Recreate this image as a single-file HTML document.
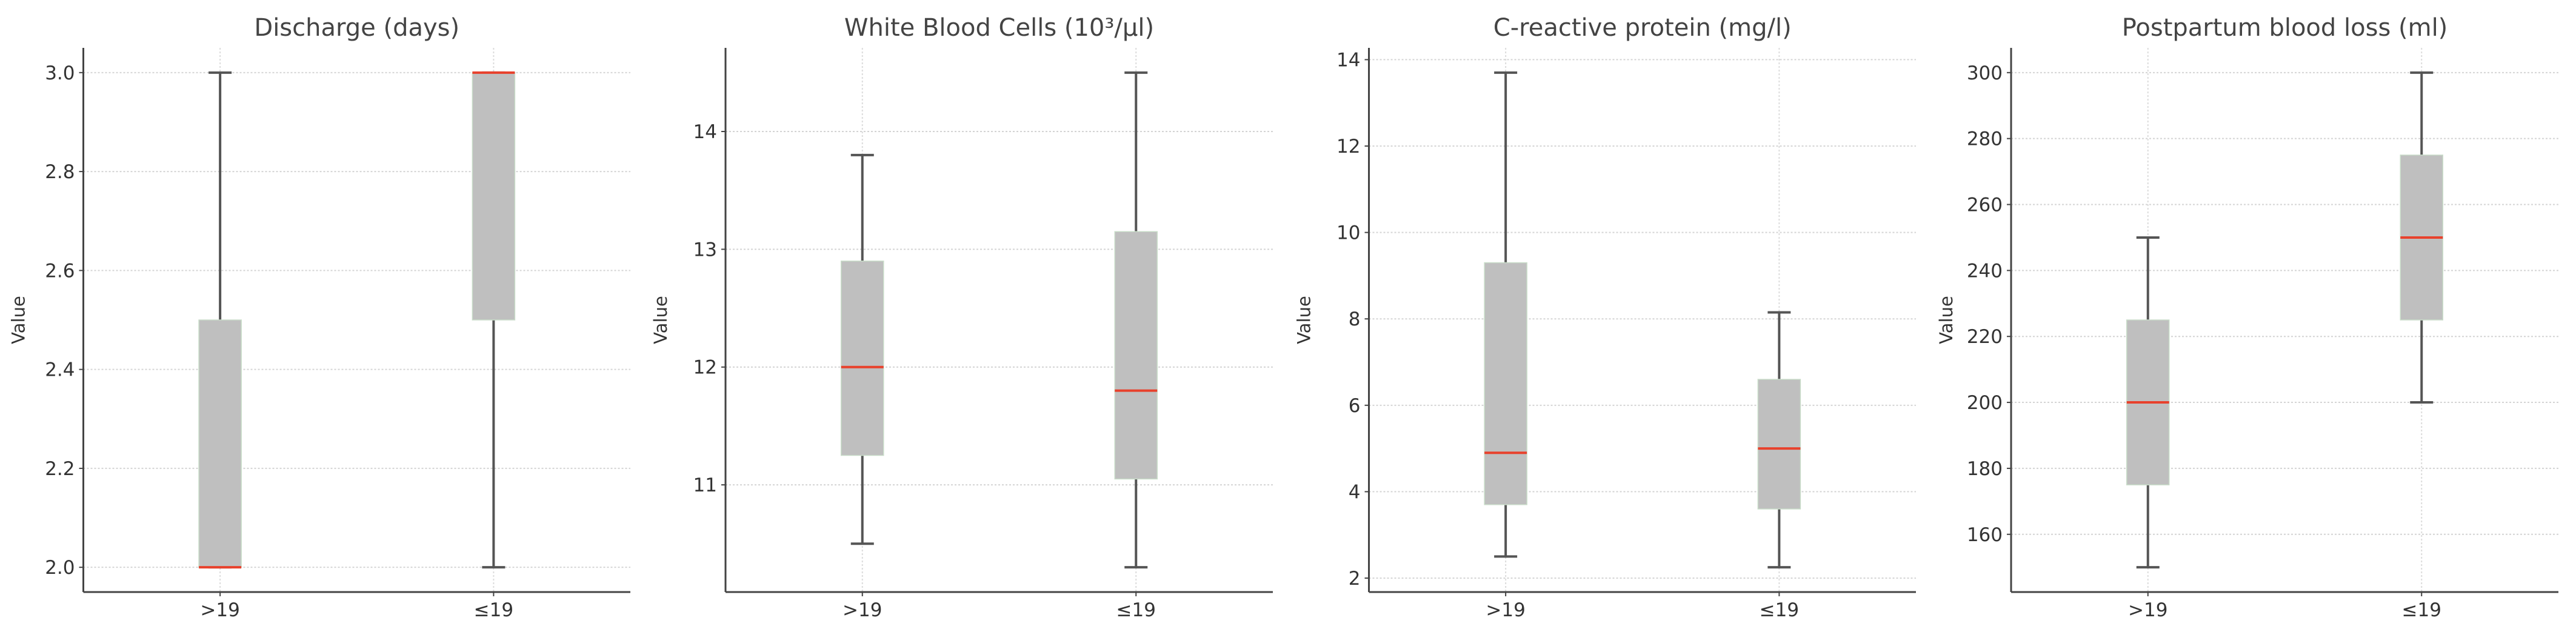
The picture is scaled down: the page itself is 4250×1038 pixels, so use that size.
<!DOCTYPE html>
<html><head><meta charset="utf-8"><style>
html,body{margin:0;padding:0;background:#fff;}
svg{display:block;font-family:"DejaVu Sans","Liberation Sans",sans-serif;}
</style></head><body>
<svg id="chart" width="4250" height="1038" viewBox="0 0 4250 1038"></svg>
<script>
const categories = [">19", "≤19"];
const titles = ["Discharge (days)", "White Blood Cells (10³/µl)", "C-reactive protein (mg/l)", "Postpartum blood loss (ml)"];
// per panel, per category: [whiskerLow, q1, median, q3, whiskerHigh]
const dischargeStats = [[2.0, 2.0, 2.0, 2.5, 3.0], [2.0, 2.5, 3.0, 3.0, 3.0]];
const wbcStats = [[10.5, 11.25, 12.0, 12.9, 13.8], [10.3, 11.05, 11.8, 13.15, 14.5]];
const crpStats = [[2.5, 3.7, 4.9, 9.3, 13.7], [2.25, 3.6, 5.0, 6.6, 8.15]];
const bloodLossStats = [[150, 175, 200, 225, 250], [200, 225, 250, 275, 300]];
const dischargeTicks = ["2.0", "2.2", "2.4", "2.6", "2.8", "3.0"];
const wbcTicks = ["11", "12", "13", "14"];
const crpTicks = ["2", "4", "6", "8", "10", "12", "14"];
const bloodLossTicks = ["160", "180", "200", "220", "240", "260", "280", "300"];

const NS = "http://www.w3.org/2000/svg";
const svg = document.getElementById("chart");
function mk(tag, attrs, parent) {
  const e = document.createElementNS(NS, tag);
  for (const k in attrs) e.setAttribute(k, attrs[k]);
  (parent || svg).appendChild(e);
  return e;
}
const panels = [
  {stats: dischargeStats, ticks: dischargeTicks, left: 137.5, right: 1040},
  {stats: wbcStats, ticks: wbcTicks, left: 1197, right: 2100},
  {stats: crpStats, ticks: crpTicks, left: 2258.5, right: 3161},
  {stats: bloodLossStats, ticks: bloodLossTicks, left: 3318, right: 4221}
];
const TOP = 79, BOTTOM = 977;
panels.forEach((p, pi) => {
  const g = mk("g", {});
  
  
  let mn = Infinity, mx = -Infinity;
  p.stats.forEach(s => s.forEach(v => { mn = Math.min(mn, v); mx = Math.max(mx, v); }));
  const m = (mx - mn) * 0.05;
  const y0 = mn - m, y1 = mx + m;
  const yS = v => BOTTOM - (v - y0) / (y1 - y0) * (BOTTOM - TOP);
  const xS = i => p.left + (i + 0.5) / 2 * (p.right - p.left);
  // grid
  p.ticks.forEach(t => {
    const y = yS(parseFloat(t));
    const gl = mk("line", {x1: p.left, x2: p.right, y1: y, y2: y, stroke: "#d4d4d4", "stroke-width": 2, "stroke-dasharray": "3,3"}, g);
    
    
    mk("line", {x1: p.left - 7, x2: p.left, y1: y, y2: y, stroke: "#444", "stroke-width": 2}, g);
    const tl = mk("text", {x: p.left - 14, y: y + 11, "text-anchor": "end", "font-size": 31, fill: "#333"}, g);
    tl.textContent = t;
    
    
  });
  categories.forEach((c, i) => {
    const x = xS(i);
    mk("line", {x1: x, x2: x, y1: TOP, y2: BOTTOM, stroke: "#dcdcdc", "stroke-width": 2, "stroke-dasharray": "3,3"}, g);
    mk("line", {x1: x, x2: x, y1: BOTTOM, y2: BOTTOM + 7, stroke: "#444", "stroke-width": 2}, g);
    const xl = mk("text", {x: x, y: BOTTOM + 40, "text-anchor": "middle", "font-size": 31, fill: "#333"}, g);
    xl.textContent = c;
    
    
    const s = p.stats[i];
    const bg = mk("g", {}, g);
    
    
    mk("line", {x1: x, x2: x, y1: yS(s[0]), y2: yS(s[1]), stroke: "#555", "stroke-width": 4}, bg);
    mk("line", {x1: x, x2: x, y1: yS(s[3]), y2: yS(s[4]), stroke: "#555", "stroke-width": 4}, bg);
    mk("line", {x1: x - 19, x2: x + 19, y1: yS(s[0]), y2: yS(s[0]), stroke: "#555", "stroke-width": 4}, bg);
    mk("line", {x1: x - 19, x2: x + 19, y1: yS(s[4]), y2: yS(s[4]), stroke: "#555", "stroke-width": 4}, bg);
    mk("rect", {x: x - 35, y: yS(s[3]), width: 70, height: Math.max(0, yS(s[1]) - yS(s[3])), fill: "#bfbfbf", stroke: "#c8dcc8", "stroke-width": 1.5}, bg);
    mk("line", {x1: x - 35, x2: x + 35, y1: yS(s[2]), y2: yS(s[2]), stroke: "#e8412c", "stroke-width": 4}, bg);
  });
  mk("line", {x1: p.left, x2: p.left, y1: TOP, y2: BOTTOM, stroke: "#444", "stroke-width": 3}, g);
  mk("line", {x1: p.left, x2: p.right, y1: BOTTOM, y2: BOTTOM, stroke: "#444", "stroke-width": 3}, g);
  const tt = mk("text", {x: (p.left + p.right) / 2, y: 59, "text-anchor": "middle", "font-size": 40, fill: "#444"}, g);
  tt.textContent = titles[pi];
  
  
  const cy = (TOP + BOTTOM) / 2, lx = p.left - 97;
  const yl = mk("text", {x: lx, y: cy, "text-anchor": "middle", "font-size": 29, fill: "#333", transform: "rotate(-90 " + lx + " " + cy + ")"}, g);
  yl.textContent = "Value";
  
  
});
</script>
</body></html>
